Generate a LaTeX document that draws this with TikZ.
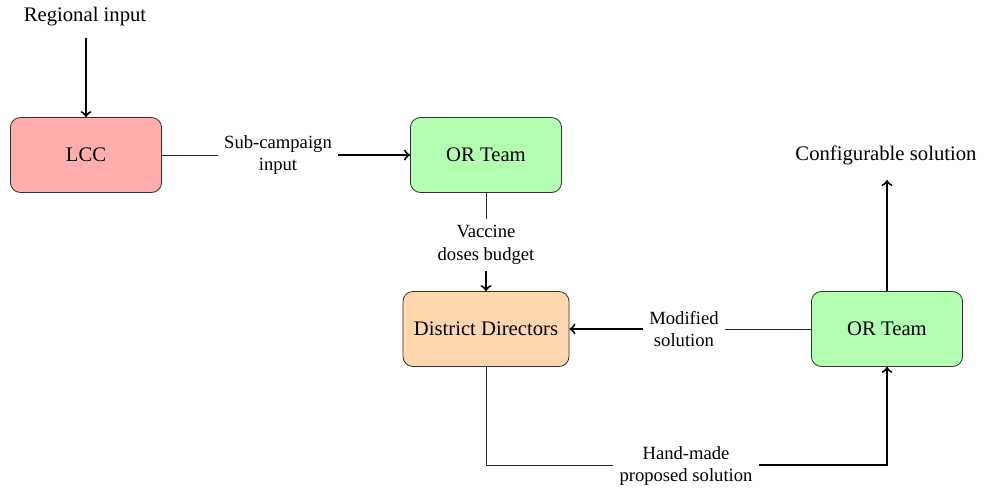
\documentclass[tikz,border=0pt]{standalone}
\usepackage{fontspec}
\setmainfont{Liberation Serif}
\begin{document}
\begin{tikzpicture}[x=0.4831pt,y=-0.4831pt,
  box/.style={draw=black!80, rounded corners=4.8pt, minimum width=73pt, minimum height=36.2pt, align=center, font=\normalsize},
  elabel/.style={align=center, font=\small, inner sep=3pt},
  thinline/.style={draw=black!85, line width=0.45pt},
  thickarrow/.style={draw=black, line width=0.95pt, ->}]
\useasboundingbox (0,0) rectangle (985,490);
\node[font=\normalsize] (reg) at (85,17) {Regional input};
\node[box, fill=red!32] (lcc) at (86,155) {LCC};
\node[box, fill=green!30] (or1) at (486,155) {OR Team};
\node[box, fill=orange!32, minimum width=80.2pt] (dd) at (486,329) {District Directors};
\node[box, fill=green!30] (or2) at (887,329) {OR Team};
\node[font=\normalsize] (conf) at (886,155) {Configurable solution};
\node[elabel] (l1) at (278,155) {Sub-campaign\\input};
\node[elabel] (l2) at (486,245) {Vaccine\\doses budget};
\node[elabel] (l3) at (684,329) {Modified\\solution};
\node[elabel] (l4) at (686,466) {Hand-made\\proposed solution};
\coordinate (c1) at (486,465);
\coordinate (c2) at (887,465);
\coordinate (top) at (887,180);
\coordinate (regb) at (86,38);
% Regional input
\draw[thickarrow] (regb) -- (lcc.north);
% LCC -> OR
\draw[thinline] (lcc.east) -- (l1.west);
\draw[thickarrow] (l1.east) -- (or1.west);
% OR -> DD
\draw[thinline] (or1.south) -- (l2.north);
\draw[thickarrow] (l2.south) -- (dd.north);
% OR2 -> DD
\draw[thinline] (or2.west) -- (l3.east);
\draw[thickarrow] (l3.west) -- (dd.east);
% DD -> OR2
\draw[thinline] (dd.south) -- (c1) -- (l4.west |- c1);
\draw[thickarrow] (l4.east |- c2) -- (c2) -- (or2.south);
% OR2 -> configurable
\draw[thickarrow] (or2.north) -- (top);
\end{tikzpicture}
\end{document}
